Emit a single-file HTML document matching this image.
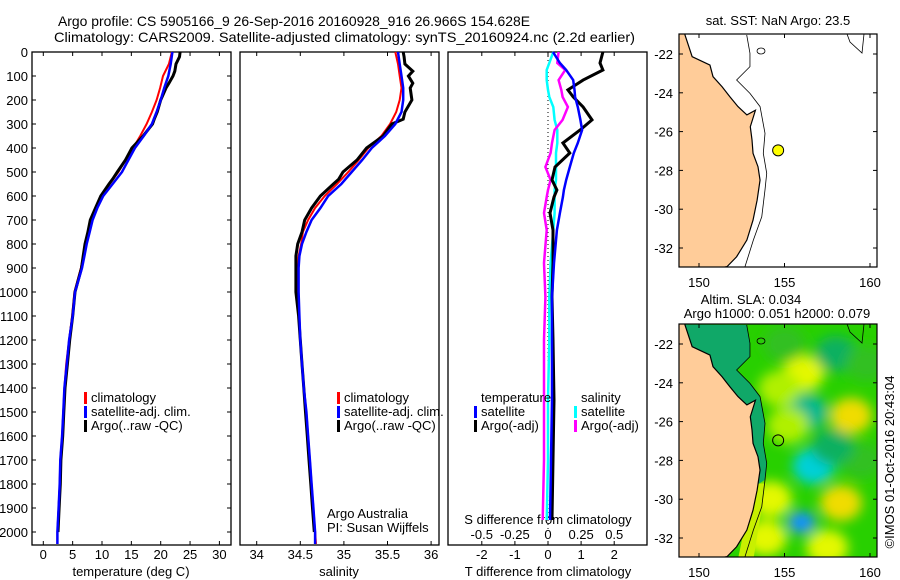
<!DOCTYPE html>
<html><head><meta charset="utf-8"><style>
html,body{margin:0;padding:0;background:#fff;width:900px;height:580px;overflow:hidden}
svg{display:block;font-family:"Liberation Sans",Arial,sans-serif}
text{font-size:13px;fill:#000}
</style></head><body>
<svg id="fig" width="900" height="580" viewBox="0 0 900 580" xmlns="http://www.w3.org/2000/svg">
<defs><filter id="blur" x="-50%" y="-50%" width="200%" height="200%"><feGaussianBlur stdDeviation="6"/></filter>
<clipPath id="clipTop"><rect x="679" y="34" width="198" height="233"/></clipPath>
<clipPath id="clipBot"><rect x="679" y="324" width="198" height="233"/></clipPath></defs>
<text x="58" y="26" textLength="472" lengthAdjust="spacingAndGlyphs" style="font-size:14px">Argo profile: CS 5905166_9 26-Sep-2016 20160928_916 26.966S 154.628E</text>
<text x="54" y="42" textLength="581" lengthAdjust="spacingAndGlyphs" style="font-size:14px">Climatology: CARS2009. Satellite-adjusted climatology: synTS_20160924.nc (2.2d earlier)</text>
</svg>
<script>
// ---- data ----
const depthTicks = [0,100,200,300,400,500,600,700,800,900,1000,1100,1200,1300,1400,1500,1600,1700,1800,1900,2000];
const tempTicks = [0,5,10,15,20,25,30];
const salTicks = [34,34.5,35,35.5,36];
const salTickLabels = ["34","34.5","35","35.5","36"];
const tdiffTicks = [-2,-1,0,1,2];
const sdiffTicks = [-0.5,-0.25,0,0.25,0.5];
const sdiffTickLabels = ["-0.5","-0.25","0","0.25","0.5"];

const climDepth = [0,50,100,150,200,250,300,350,400,450,500,550,600,650,700,750,800,850,900,1000,1100,1200,1300,1400,1500,1600,1700,1800,1900,2000,2050];
const tempClim = [21.9,21.4,20.4,19.9,19.3,18.5,17.6,16.5,15.3,14.0,12.8,11.3,10.0,9.1,8.3,7.8,7.3,6.8,6.4,5.3,4.9,4.4,3.9,3.6,3.4,3.2,2.9,2.8,2.6,2.4,2.4];
const tempSat = [22.0,21.7,21.3,20.6,20.0,19.3,18.5,17.1,15.6,14.5,13.4,11.8,10.2,9.2,8.4,7.9,7.4,7.0,6.6,5.4,5.0,4.4,4.0,3.6,3.4,3.2,2.9,2.8,2.6,2.4,2.4];
const salClim = [35.59,35.62,35.64,35.66,35.64,35.60,35.53,35.43,35.28,35.17,35.05,34.92,34.78,34.67,34.59,34.53,34.51,34.48,34.47,34.47,34.49,34.50,34.52,34.54,34.57,34.59,34.61,34.63,34.65,34.67,34.68];
const salSat = [35.62,35.64,35.66,35.68,35.68,35.66,35.59,35.47,35.32,35.21,35.09,34.97,34.82,34.73,34.63,34.57,34.52,34.49,34.48,34.48,34.49,34.50,34.52,34.54,34.57,34.59,34.61,34.63,34.65,34.67,34.67];

const argoDepth = [0,20,50,80,100,130,150,200,250,280,300,350,400,450,500,530,550,600,650,700,750,800,850,900,1000,1100,1200,1300,1400,1500,1600,1700,1800,1900,2000];
const tempArgo = [23.3,23.2,22.6,22.4,22.1,21.4,20.9,20.0,19.4,18.9,18.6,17.0,15.1,14.0,12.6,11.8,11.2,9.8,8.9,8.0,7.6,7.1,6.8,6.5,5.4,5.0,4.5,4.1,3.7,3.5,3.3,3.0,2.9,2.7,2.5];
const salArgo = [35.68,35.69,35.70,35.79,35.74,35.79,35.76,35.78,35.70,35.68,35.55,35.45,35.26,35.15,34.99,34.94,34.88,34.73,34.63,34.55,34.52,34.47,34.45,34.45,34.45,34.48,34.50,34.52,34.54,34.56,34.58,34.60,34.62,34.64,34.66];

const diffDepth = [0,46,75,117,158,187,229,283,325,379,421,479,533,575,604,671,742,879,1021,1200,1450,1700,1950];
const tdiffSat = [0.15,0.36,0.55,0.76,0.80,0.82,0.90,0.98,1.03,0.90,0.78,0.66,0.55,0.48,0.45,0.36,0.27,0.18,0.12,0.12,0.12,0.09,0.06];
const tdiffArgo = [1.66,1.57,1.66,1.06,0.60,0.76,1.06,1.33,0.97,0.45,0.66,0.21,0.12,0.27,0.18,0.06,0.15,0.15,0.12,0.15,0.18,0.15,0.12];
const sdiffSat = [0.04,0.01,-0.01,-0.01,0.00,0.01,0.04,0.05,0.07,0.07,0.06,0.06,0.06,0.05,0.05,0.05,0.04,0.02,0.01,0.01,0.00,0.00,-0.01];
const sdiffArgo = [0.08,0.07,0.13,0.08,0.10,0.11,0.15,0.11,0.05,0.03,0.02,-0.02,0.02,0.00,-0.01,-0.03,-0.01,-0.03,-0.02,-0.03,-0.03,-0.03,-0.04];

const lonTicks = [150,155,160];
const latTicks = [-22,-24,-26,-28,-30,-32];
const coastLon = [149.18,149.6,150.64,150.82,151.35,151.8,152.28,152.8,153.3,153.0,153.1,153.16,153.45,153.57,153.4,153.16,152.8,152.2,151.64];
const coastLat = [-21.02,-22.14,-22.57,-23.17,-23.69,-24.2,-24.71,-25.14,-24.9,-25.75,-26.43,-27.12,-27.81,-28.5,-29.53,-30.56,-31.59,-32.45,-32.96];
const isoLon = [152.79,152.98,152.98,152.2,152.98,153.57,153.86,153.76,153.96,153.86,153.67,153.18,152.69];
const isoLat = [-21.02,-21.96,-22.65,-23.34,-24.03,-24.71,-26.09,-27.12,-28.15,-29.0,-30.39,-31.59,-32.96];
const argoLon = [154.628];
const argoLat = [-26.966];
const slaLon = [156.1,158.9,156.3,156.7,156.0,158.3,154.2,157.5,158.0,155.2,159.5,153.9,157.8,155.0,159.8,154.7];
const slaLat = [-23.5,-25.7,-25.5,-28.3,-31.2,-30.2,-30.0,-32.5,-22.5,-26.2,-28.0,-32.0,-27.3,-22.0,-23.0,-24.3];
const slaVal = [0.12,0.16,-0.06,-0.12,-0.20,0.14,0.12,0.12,-0.04,0.08,0.02,0.13,-0.03,0.00,0.02,0.09];

// ---- helpers ----
const svg = document.getElementById('fig');
const NS = 'http://www.w3.org/2000/svg';
function mk(tag, attrs, parent){const e=document.createElementNS(NS,tag);for(const k in attrs)e.setAttribute(k,attrs[k]);(parent||svg).appendChild(e);return e;}
function txt(x,y,s,anchor,parent,extra){const t=mk('text',Object.assign({x:x,y:y,'text-anchor':anchor||'start'},extra||{}),parent);t.textContent=s;return t;}
const Y0=52, YPX=0.24, YB=545;
const yD = d => Y0 + d*YPX;
const xT = v => 43.3 + v*5.87;
const xS = v => 256.7 + (v-34)*87.2;
const xTD = v => 548 + v*33.1;
const xSD = v => 548 + v*132.5;

function box(x0,x1,name){const r=mk('rect',{x:x0,y:Y0,width:x1-x0,height:YB-Y0,fill:'none',stroke:'#000','stroke-width':1.3});

}
function line(xs,ds,xf,color,w,name){const pts=xs.map((v,i)=>xf(v).toFixed(1)+','+yD(ds[i]).toFixed(1)).join(' ');
const p=mk('polyline',{points:pts,fill:'none',stroke:color,'stroke-width':w,'stroke-linejoin':'miter'});

}
function xticks(vals,labels,xf,x0,x1,name,labelY){const g=mk('g',{});


vals.forEach((v,i)=>{const x=xf(v);mk('line',{x1:x,x2:x,y1:YB,y2:YB-4,stroke:'#000'},g);mk('line',{x1:x,x2:x,y1:Y0,y2:Y0+4,stroke:'#000'},g);
if(labelY) txt(x,labelY,labels[i],'middle',g);});}
function legend(x,y,items,name){const g=mk('g',{});


items.forEach((it,i)=>{const yy=y+i*14;if(it[0])mk('rect',{x:x,y:yy-10,width:3,height:12,fill:it[0]},g);txt(x+7,yy,it[1],'start',g);});}

// ---- panel 1: temperature ----
box(32,231,'temperature-panel');
const yax=mk('g',{});


depthTicks.forEach(d=>{const y=yD(d);mk('line',{x1:32,x2:36,y1:y,y2:y,stroke:'#000'},yax);mk('line',{x1:231,x2:227,y1:y,y2:y,stroke:'#000'},yax);txt(28,y+5,String(d),'end',yax);});
xticks(tempTicks,tempTicks.map(String),xT,32,231,'temperature-x-axis',559);
txt(131,576,'temperature (deg C)','middle',null,{});
line(tempClim,climDepth,xT,'#ff0000',2,'temp-climatology-line');
line(tempArgo,argoDepth,xT,'#000000',3,'temp-argo-line');
line(tempSat,climDepth,xT,'#0000ff',2.5,'temp-satellite-line');
legend(84,402,[['#ff0000','climatology'],['#0000ff','satellite-adj. clim.'],['#000','Argo(..raw -QC)']],'temperature-legend');

// ---- panel 2: salinity ----
box(240,439,'salinity-panel');
xticks(salTicks,salTickLabels,xS,240,439,'salinity-x-axis',559);
txt(339,576,'salinity','middle',null,{});
line(salClim,climDepth,xS,'#ff0000',2,'sal-climatology-line');
line(salArgo,argoDepth,xS,'#000000',3,'sal-argo-line');
line(salSat,climDepth,xS,'#0000ff',2.5,'sal-satellite-line');
legend(337,402,[['#ff0000','climatology'],['#0000ff','satellite-adj. clim.'],['#000','Argo(..raw -QC)']],'salinity-legend');
txt(327,518,'Argo Australia','start',null,{});
txt(327,532,'PI: Susan Wijffels','start',null,{});

// ---- panel 3: differences ----
box(448,647,'difference-panel');
xticks(tdiffTicks,tdiffTicks.map(String),xTD,448,647,'t-difference-x-axis',559);
const sg=mk('g',{});


sdiffTicks.forEach((v,i)=>txt(xSD(v),539,sdiffTickLabels[i],'middle',sg));
txt(548,576,'T difference from climatology','middle',null,{});
txt(548,524,'S difference from climatology','middle',null,{});
const zl=mk('line',{x1:548,x2:548,y1:Y0,y2:530,stroke:'#000','stroke-dasharray':'1,3'});


line(sdiffSat,diffDepth,xSD,'#00ffff',2.5,'s-diff-satellite-line');
line(sdiffArgo,diffDepth,xSD,'#ff00ff',2.5,'s-diff-argo-line');
line(tdiffArgo,diffDepth,xTD,'#000000',3,'t-diff-argo-line');
line(tdiffSat,diffDepth,xTD,'#0000ff',2.5,'t-diff-satellite-line');
legend(474,402,[[null,'temperature'],['#0000ff','satellite'],['#000','Argo(-adj)']],'t-difference-legend');
legend(574,402,[[null,'salinity'],['#00ffff','satellite'],['#ff00ff','Argo(-adj)']],'s-difference-legend');

// ---- maps ----
const mx = lon => 699 + (lon-150)*17.1;
const my = (lat,off) => off + 54 - (lat+22)*19.4;
function map(off,clipId,name,withField){
  const g=mk('g',{'clip-path':'url(#'+clipId+')'});
  
  
  if(withField){
    mk('rect',{x:679,y:off+34,width:198,height:233,fill:'#28d000'},g);
    const fg=mk('g',{filter:'url(#blur)'},g);
    slaLon.forEach((lo,i)=>{const v=slaVal[i];
      const col = v>0.13?'#f0dc00':v>0.09?'#e4f800':v>0.05?'#b0f000':v>-0.01?'#30c020':v>-0.05?'#10b060':v>-0.1?'#00b890':v>-0.15?'#00d0d8':'#1890ff';
      const r = v<-0.15?11:18;
      const c=mk('ellipse',{cx:mx(lo),cy:my(slaLat[i],off),rx:r+3,ry:r,fill:col},fg);
      
      });
    const shelf=[];isoLon.forEach((lo,i)=>{if(isoLat[i]>-29.2)shelf.push(mx(lo)+','+my(isoLat[i],off));});
    shelf.push(mx(153.5)+','+my(-29.2,off));shelf.push(mx(149)+','+my(-29.2,off));shelf.push(mx(149)+','+my(-21,off));
    mk('polygon',{points:shelf.join(' '),fill:'#10a868'},g);
    mk('polygon',{points:[mx(153.2)+','+my(-29.2,off),mx(153.9)+','+my(-29.2,off),mx(153.2)+','+my(-33,off),mx(152.3)+','+my(-33,off)].join(' '),fill:'#c8f000'},g);
  }
  const pts=coastLon.map((lo,i)=>mx(lo)+','+my(coastLat[i],off));
  pts.push(mx(148.5)+','+my(-33.5,off));pts.push(mx(148.5)+','+my(-20.5,off));pts.push(mx(149.18)+','+my(-20.5,off));
  const land=mk('polygon',{points:pts.join(' '),fill:'#ffcc99',stroke:'#000','stroke-width':1.2},g);
  
  
  const iso=mk('polyline',{points:isoLon.map((lo,i)=>mx(lo)+','+my(isoLat[i],off)).join(' '),fill:'none',stroke:'#000','stroke-width':0.8},g);
  
  
  mk('path',{d:'M847,'+(off+34)+' L850,'+(off+42)+' L862,'+(off+53)+' L864,'+(off+34),fill:'none',stroke:'#000','stroke-width':0.8},g);
  mk('ellipse',{cx:761,cy:off+51,rx:4,ry:3,fill:'none',stroke:'#000','stroke-width':0.8},g);
  const dot=mk('circle',{cx:mx(argoLon[0]),cy:my(argoLat[0],off),r:5.5,fill:withField?'none':'#ffff00',stroke:'#000','stroke-width':1},g);
  
  
  const fr=mk('rect',{x:679,y:off+34,width:198,height:233,fill:'none',stroke:'#000','stroke-width':1.2});
  
  
  const ax=mk('g',{});
  
  
  lonTicks.forEach(lo=>{const x=mx(lo);mk('line',{x1:x,x2:x,y1:off+267,y2:off+263,stroke:'#000'},ax);mk('line',{x1:x,x2:x,y1:off+34,y2:off+38,stroke:'#000'},ax);txt(x,off+287,String(lo),'middle',ax);});
  latTicks.forEach(la=>{const y=my(la,off);mk('line',{x1:679,x2:683,y1:y,y2:y,stroke:'#000'},ax);mk('line',{x1:877,x2:873,y1:y,y2:y,stroke:'#000'},ax);txt(673,y+5,String(la),'end',ax);});
}
map(0,'clipTop','sst-map',false);
map(290,'clipBot','sla-map',true);
txt(778,25,'sat. SST: NaN Argo: 23.5','middle',null,{});
txt(751,304,'Altim. SLA: 0.034','middle',null,{});
txt(777,318,'Argo h1000: 0.051 h2000: 0.079','middle',null,{});
txt(0,0,'\u00a9IMOS 01-Oct-2016 20:43:04','middle',null,{transform:'translate(894,462) rotate(-90)',});
</script>
</body></html>
